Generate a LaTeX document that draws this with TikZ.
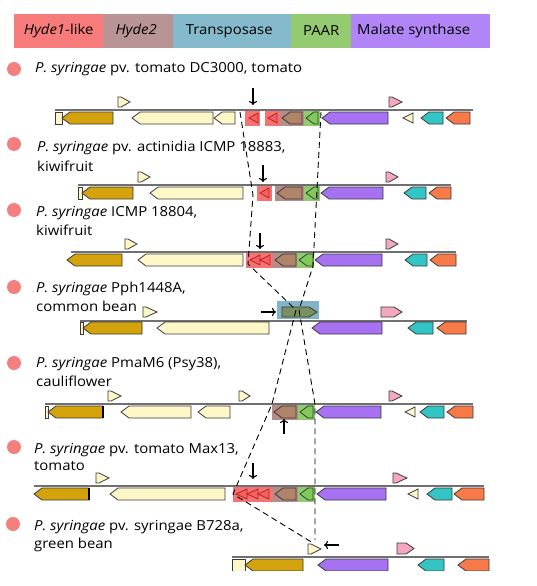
\documentclass[tikz,border=0pt]{standalone}
\usepackage{fontspec}
\setmainfont{Open Sans}[FakeStretch=1.08]
\usetikzlibrary{arrows.meta}
\definecolor{hyde1}{HTML}{F77B7B}
\definecolor{hyde2}{HTML}{B99494}
\definecolor{transp}{HTML}{84BACB}
\definecolor{paar}{HTML}{94CA70}
\definecolor{malate}{HTML}{B285F7}
\definecolor{bul}{HTML}{F47F7F}
\definecolor{goldg}{HTML}{D4A20A}
\definecolor{creamg}{HTML}{FEF7C8}
\definecolor{purpg}{HTML}{A672F2}
\definecolor{cyang}{HTML}{33C4C4}
\definecolor{orngg}{HTML}{F87A48}
\definecolor{pinkg}{HTML}{F4A8C0}
\definecolor{gline}{HTML}{3A3A3A}
\definecolor{chromc}{HTML}{707070}
\definecolor{redbox}{HTML}{F47474}
\definecolor{redtri}{HTML}{F26262}
\definecolor{redtrib}{HTML}{C41E1E}
\definecolor{brbox}{HTML}{B48C88}
\definecolor{brgene}{HTML}{B08468}
\definecolor{grbox}{HTML}{8FCC6E}
\definecolor{grgene}{HTML}{7ECB5A}
\definecolor{trbox}{HTML}{80B4C6}
\definecolor{trgene}{HTML}{7C8F5E}
\newcommand\gL[4]{\draw[gene,fill=#4] (#1,#3+8) -- (#1+8,#3+2) -- (#2,#3+2) -- (#2,#3+14) -- (#1+8,#3+14) -- cycle;}
\newcommand\gR[4]{\draw[gene,fill=#4] (#1,#3+2) -- (#2-8,#3+2) -- (#2,#3+8) -- (#2-8,#3+14) -- (#1,#3+14) -- cycle;}
\newcommand\gB[4]{\draw[gene,fill=#4] (#1,#3+2) rectangle (#2,#3+14);}
\newcommand\tU[4]{\draw[gene,fill=#4] (#1,#3-13) -- (#1+3,#3-13) -- (#2,#3-8) -- (#1+3,#3-3) -- (#1,#3-3) -- cycle;}
\newcommand\tL[4]{\draw[gene,fill=#4] (#1,#3+8) -- (#2,#3+3) -- (#2,#3+13) -- cycle;}
\newcommand\rT[3]{\draw[draw=redtrib,line width=0.8pt,fill=redtri] (#1,#3+8) -- (#2,#3+3) -- (#2,#3+13) -- cycle;}
\newcommand\hlb[4]{\fill[#4] (#1,#3-1) rectangle (#2,#3+16);}
\begin{document}
\begin{tikzpicture}[x=1pt,y=-1pt,
  gene/.style={draw=gline,line width=0.8pt,line join=miter},
  chrom/.style={draw=chromc,line width=1.6pt},
  leg/.style={anchor=west,inner sep=0pt,minimum height=34pt},
  lab/.style={anchor=base west,inner sep=0pt,font=\fontsize{13.8}{16}\selectfont},
  bullet/.style={circle,fill=bul,inner sep=0pt,minimum size=14pt},
  ptr/.style={-{To[length=4pt,width=8pt]},line width=1.1pt},
  dline/.style={dash pattern=on 6pt off 4pt,line width=0.9pt}]
\useasboundingbox (0,0) rectangle (536,586);
% legend
\node[leg,fill=hyde1,minimum width=89pt] (l1) at (14,31) {};
\node[leg,fill=hyde2,minimum width=70pt] (l2) at (103,31) {};
\node[leg,fill=transp,minimum width=118pt] (l3) at (173,31) {};
\node[leg,fill=paar,minimum width=60pt] (l4) at (291,31) {};
\node[leg,fill=malate,minimum width=139pt] (l5) at (351,31) {};
\node[lab,anchor=center] (t1) at (l1.center) {\itshape Hyde1\upshape-like};
\node[lab,anchor=center] (t2) at ([xshift=-2pt]l2.center) {\itshape Hyde2};
\node[lab,anchor=center] (t3) at ([xshift=-3pt]l3.center) {Transposase};
\node[lab,anchor=center] (t4) at (l4.center) {PAAR};
\node[lab,anchor=center] (t5) at ([xshift=-7pt]l5.center) {Malate synthase};
% bullets and labels
\node[bullet] (b1) at (14,69) {};
\node[lab] (n1) at (35,73) {\itshape P. syringae\upshape{} pv. tomato DC3000, tomato};
\node[bullet] (b2) at (14,144) {};
\node[lab] (n2a) at (37,151.5) {\itshape P. syringae\upshape{} pv. actinidia ICMP 18883,};
\node[lab] (n2b) at (37,171) {kiwifruit};
\node[bullet] (b3) at (14,210) {};
\node[lab] (n3a) at (36,216) {\itshape P. syringae\upshape{} ICMP 18804,};
\node[lab] (n3b) at (36,235) {kiwifruit};
\node[bullet] (b4) at (14,287) {};
\node[lab] (n4a) at (36,292) {\itshape P. syringae\upshape{} Pph1448A,};
\node[lab] (n4b) at (36,311) {common bean};
\node[bullet] (b5) at (14,363) {};
\node[lab] (n5a) at (36,367) {\itshape P. syringae\upshape{} PmaM6 (Psy38),};
\node[lab] (n5b) at (36,386) {cauliflower};
\node[bullet] (b6) at (14,447) {};
\node[lab] (n6a) at (34,453) {\itshape P. syringae\upshape{} pv. tomato Max13,};
\node[lab] (n6b) at (34,470) {tomato};
\node[bullet] (b7) at (13,524) {};
\node[lab] (n7a) at (34,530) {\itshape P. syringae\upshape{} pv. syringae B728a,};
\node[lab] (n7b) at (34,548) {green bean};
% ---- row 1 (L=110)
\hlb{245}{260}{110}{redbox}\hlb{265}{280}{110}{redbox}\hlb{280}{304}{110}{brbox}\hlb{304}{320}{110}{grbox}
\draw[chrom] (55,110) -- (473,110);
\gB{55}{62}{110}{creamg}\gL{62}{113}{110}{goldg}\gL{132}{213}{110}{creamg}\gL{214}{235}{110}{creamg}
\tU{118}{130}{110}{creamg}
\rT{249}{258}{110}\rT{268}{277}{110}
\gL{282}{302}{110}{brgene}\gL{306}{318}{110}{grgene}
\gL{322}{388}{110}{purpg}\tU{389}{402}{110}{pinkg}\tL{403}{413}{110}{creamg}
\gL{421}{443}{110}{cyang}\gL{446}{470}{110}{orngg}
% ---- row 2 (L=185)
\hlb{257}{272}{185}{redbox}\hlb{275}{304}{185}{brbox}\hlb{304}{320}{185}{grbox}
\draw[chrom] (78,185) -- (451,185);
\gB{78}{82}{185}{creamg}\gL{82}{133}{185}{goldg}\gL{150}{243}{185}{creamg}
\tU{138}{150}{185}{creamg}
\rT{260}{269}{185}
\gL{277}{302}{185}{brgene}\gL{306}{318}{185}{grgene}
\gL{321}{383}{185}{purpg}\tU{386}{398}{185}{pinkg}
\gL{404}{426}{185}{cyang}\gL{429}{451}{185}{orngg}
% ---- row 3 (L=252)
\hlb{246}{273}{252}{redbox}\hlb{273}{297}{252}{brbox}\hlb{297}{314}{252}{grbox}
\draw[chrom] (71,252) -- (456,252);
\gL{67}{122}{252}{goldg}\gL{138}{243}{252}{creamg}
\tU{125}{137}{252}{creamg}
\rT{250}{260}{252}\rT{260}{270}{252}
\gL{275}{296}{252}{brgene}\gL{299}{313}{252}{grgene}
\gL{315}{382}{252}{purpg}\tU{386}{398}{252}{pinkg}
\gL{405}{427}{252}{cyang}\gL{430}{456}{252}{orngg}
% ---- row 4 (L=321)
\fill[trbox] (277,301) rectangle (319,319);
\draw[chrom] (80,321) -- (467,321);
\gB{80}{83}{320}{creamg}\gL{83}{142}{320}{goldg}\gL{157}{269}{320}{creamg}
\tU{143}{157}{320}{creamg}
\draw[gene,fill=trgene] (282,307) -- (309,307) -- (317,312) -- (309,317) -- (282,317) -- cycle;
\draw[gene,fill=pinkg] (381,307) -- (394,307) -- (402,312) -- (394,317) -- (381,317) -- cycle;
\gL{312}{382}{320}{purpg}
\gL{408}{433}{320}{cyang}\gL{437}{466}{320}{orngg}
% ---- row 5 (L=404)
\hlb{272}{298}{404}{brbox}\hlb{298}{315}{404}{grbox}
\draw[chrom] (45,404) -- (473,404);
\gB{45}{48}{404}{creamg}\gL{48}{103}{404}{goldg}\draw[line width=1.6pt] (103,406) -- (103,418);
\gL{121}{191}{404}{creamg}\gL{198}{230}{404}{creamg}
\tU{108}{121}{404}{creamg}\tU{239}{250}{404}{creamg}
\gL{274}{296}{404}{brgene}\gL{300}{313}{404}{grgene}
\gL{316}{381}{404}{purpg}\tU{389}{402}{404}{pinkg}\tL{405}{415}{404}{creamg}
\gL{420}{444}{404}{cyang}\gL{447}{473}{404}{orngg}
% ---- row 6 (L=486)
\hlb{233}{273}{486}{redbox}\hlb{273}{298}{486}{brbox}\hlb{298}{315}{486}{grbox}
\draw[chrom] (34,486) -- (484,486);
\gL{34}{89}{486}{goldg}\draw[line width=1.6pt] (89,488) -- (89,500);
\gL{110}{225}{486}{creamg}
\tU{96}{109}{486}{creamg}
\rT{236}{247}{486}\rT{247}{258}{486}\rT{258}{269}{486}
\gL{275}{296}{486}{brgene}\gL{300}{313}{486}{grgene}
\gL{317}{386}{486}{purpg}\tU{393}{407}{486}{pinkg}\tL{408}{418}{486}{creamg}
\gL{427}{452}{486}{cyang}\gL{454}{484}{486}{orngg}
% ---- row 7 (L=557)
\draw[chrom] (232,557) -- (489,557);
\begin{scope}
\clip (200,540) rectangle (500,570);
\gB{232}{245}{557}{creamg}\gL{245}{303}{557}{goldg}
\gL{318}{388}{557}{purpg}
\gL{418}{444}{557}{cyang}\gL{458}{489}{557}{orngg}
\end{scope}
\tU{308}{321}{557}{creamg}
\draw[gene,fill=pinkg] (397,543) -- (406,543) -- (414,548.5) -- (406,554) -- (397,554) -- cycle;
% pointer arrows
\coordinate (p1s) at (253,88);  \coordinate (p1e) at (253,105);
\coordinate (p2s) at (263,165); \coordinate (p2e) at (263,182);
\coordinate (p3s) at (260,233); \coordinate (p3e) at (260,249);
\coordinate (p4s) at (261,312); \coordinate (p4e) at (276,312);
\coordinate (p5s) at (284,434); \coordinate (p5e) at (284,419);
\coordinate (p6s) at (253,463); \coordinate (p6e) at (253,479);
\coordinate (p7s) at (339,545); \coordinate (p7e) at (324,545);
\foreach \i in {1,...,7} \draw[ptr] (p\i s) -- (p\i e);
% dashed guide lines
\coordinate (a1) at (240,112); \coordinate (a2) at (253,195); \coordinate (a3) at (248,264);
\coordinate (a4) at (296,310); \coordinate (a5) at (272,404); \coordinate (a6) at (233,494);
\coordinate (a7) at (313,543);
\coordinate (c1) at (321,112); \coordinate (c2) at (313,266); \coordinate (c3) at (299,310);
\coordinate (c4) at (315,404); \coordinate (c5) at (315,540);
\draw[dline] (a1) -- (a2) -- (a3) -- (a4) -- (a5) -- (a6) -- (a7);
\draw[dline] (c1) -- (c2) -- (c3) -- (c4) -- (c5);
\end{tikzpicture}
\end{document}
